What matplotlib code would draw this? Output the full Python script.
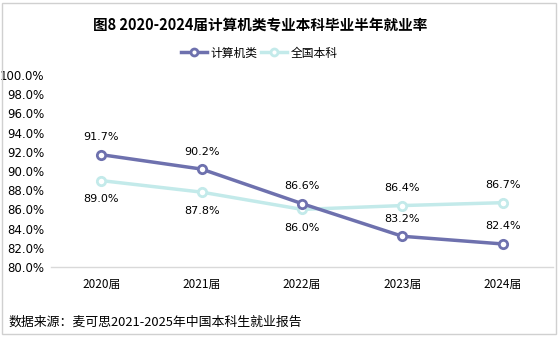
import matplotlib
matplotlib.use("Agg")
import matplotlib.pyplot as plt
from matplotlib.lines import Line2D
from matplotlib.patches import Rectangle

plt.rcParams['font.family'] = ['Noto Sans CJK SC', 'DejaVu Sans']

# 数据
years = ["2020届", "2021届", "2022届", "2023届", "2024届"]
computer = [91.7, 90.2, 86.6, 83.2, 82.4]
national = [89.0, 87.8, 86.0, 86.4, 86.7]
yticks = [80, 82, 84, 86, 88, 90, 92, 94, 96, 98, 100]

c_comp = "#6e71ae"
c_nat = "#c3eaea"

fig = plt.figure(figsize=(5.59, 3.39), dpi=100)
ax = fig.add_axes([51/559, 72/339, 502/559, 192/339])

x = list(range(len(years)))
ax.plot(x, national, color=c_nat, lw=2.5, marker='o', ms=6, mfc='white',
        mec=c_nat, mew=2, zorder=3)
ax.plot(x, computer, color=c_comp, lw=2.5, marker='o', ms=6, mfc='white',
        mec=c_comp, mew=2, zorder=4)

# 数据标签
for i, v in enumerate(computer):
    ax.annotate(f"{v:.1f}%", (i, v), xytext=(0, 9), textcoords='offset points',
                ha='center', va='bottom', fontsize=8, family='DejaVu Sans')
nat_off = [-10, -10, -10, 9, 9]
for i, v in enumerate(national):
    ax.annotate(f"{v:.1f}%", (i, v), xytext=(0, nat_off[i]), textcoords='offset points',
                ha='center', va='top' if nat_off[i] < 0 else 'bottom',
                fontsize=8, family='DejaVu Sans')

ax.set_xlim(-0.5, 4.5)
ax.set_ylim(80, 100)
ax.set_yticks(yticks)
ax.set_yticklabels([f"{t:.1f}%" for t in yticks], fontsize=8.5, family='DejaVu Sans')
ax.set_xticks(x)
ax.set_xticklabels(years, fontsize=8.5)
ax.tick_params(length=0, pad=5)
ax.tick_params(axis='x', pad=8)
for s in ['top', 'right', 'left']:
    ax.spines[s].set_visible(False)
ax.spines['bottom'].set_color('#d9d9d9')
ax.spines['bottom'].set_linewidth(1)

# 标题与图例
fig.text(260/559, 1 - 25/339, "图8 2020-2024届计算机类专业本科毕业半年就业率",
         ha='center', va='center', fontsize=10.5, fontweight='bold')
handles = [Line2D([], [], color=c_comp, lw=2.5, marker='o', ms=5, mfc='white', mec=c_comp, mew=2),
           Line2D([], [], color=c_nat, lw=2.5, marker='o', ms=5, mfc='white', mec=c_nat, mew=2)]
fig.legend(handles, ["计算机类", "全国本科"], loc='center', bbox_to_anchor=(259/559, 1 - 53/339),
           ncol=2, frameon=False, fontsize=8.5, handlelength=2.2, columnspacing=0.3,
           handletextpad=0.3)

fig.text(8/559, 1 - 322/339, "数据来源：麦可思2021-2025年中国本科生就业报告",
         ha='left', va='center', fontsize=9.3, style='italic')

fig.patches.append(Rectangle((2/559, 5/339), 554/559, 331/339, transform=fig.transFigure,
                             fill=False, edgecolor='#d0d0d0', lw=1))

fig.savefig("out.png", dpi=100)
